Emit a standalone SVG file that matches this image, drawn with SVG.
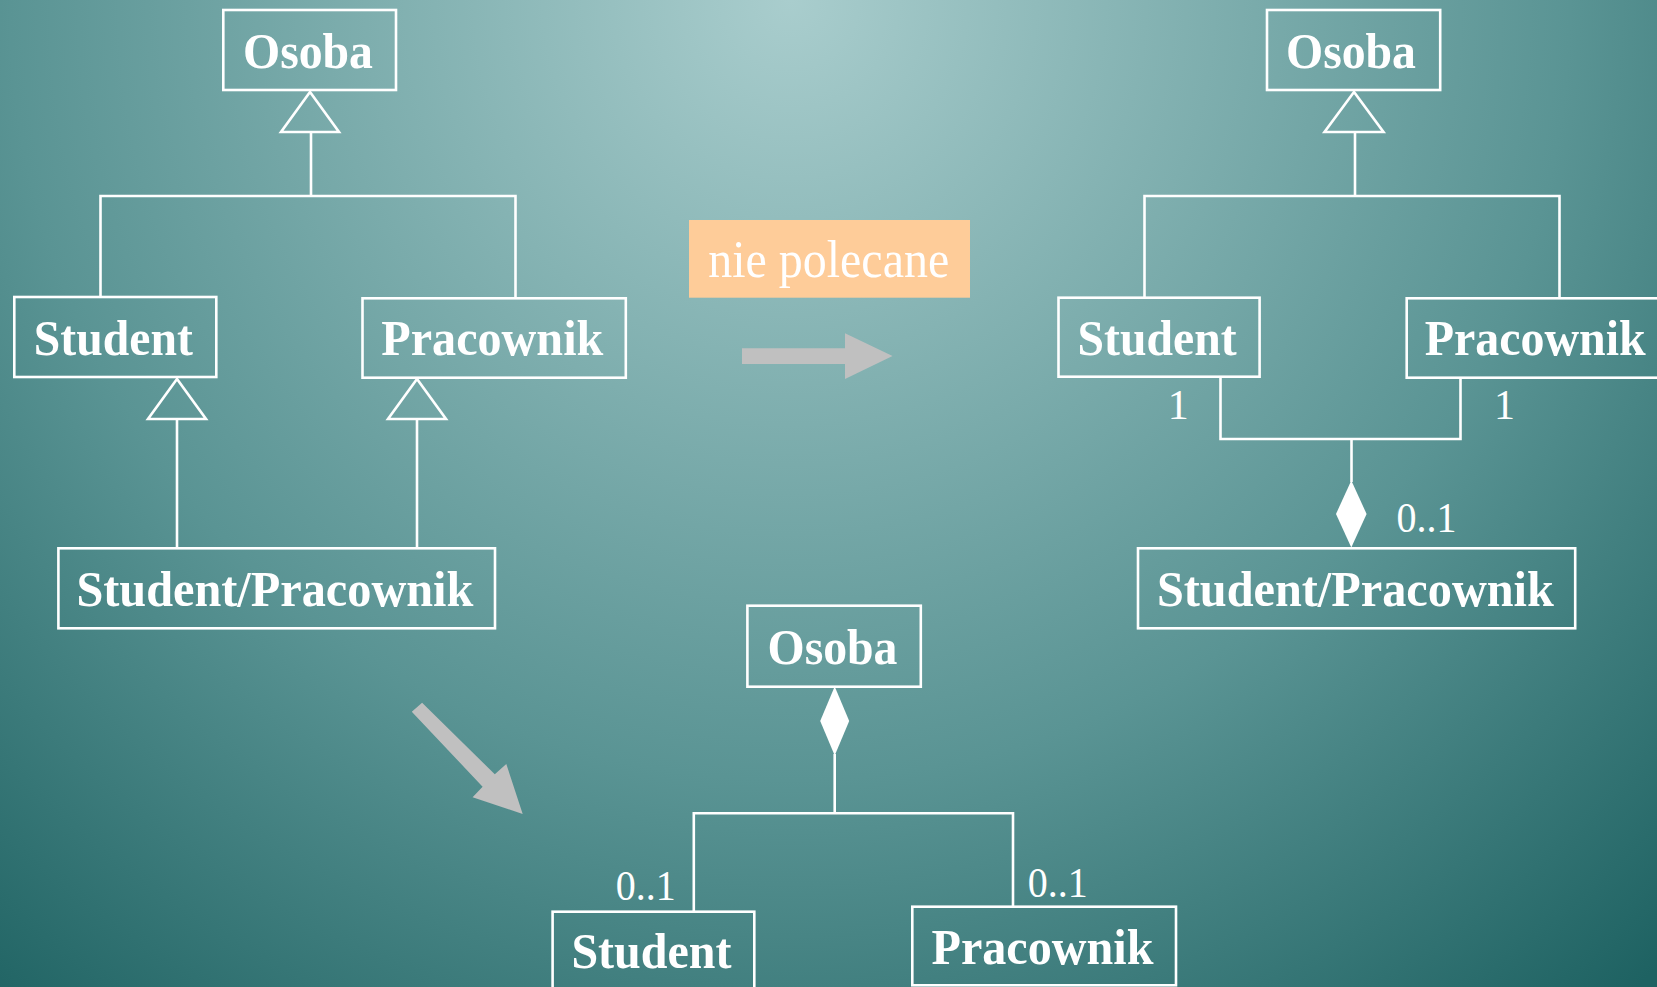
<svg xmlns="http://www.w3.org/2000/svg" width="1657" height="987" viewBox="0 0 1657 987">
<defs>
<radialGradient id="bg" gradientUnits="userSpaceOnUse" cx="790" cy="0" r="1300">
<stop offset="0" stop-color="#A9CDCD"/>
<stop offset="0.6" stop-color="#5A9494"/>
<stop offset="1" stop-color="#1E6262"/>
</radialGradient>
</defs>
<style>
.box{fill:none;stroke:#FFFFFF;stroke-width:2.6}
.ln{fill:none;stroke:#FFFFFF;stroke-width:2.6}
.tri{fill:none;stroke:#FFFFFF;stroke-width:2.6;stroke-linejoin:miter}
.dia{fill:#FFFFFF;stroke:none}
.lbl{font-family:"Liberation Serif","Times New Roman",serif;font-weight:bold;font-size:50px;fill:#FFFFFF;text-anchor:middle}
.mult{font-family:"Liberation Serif","Times New Roman",serif;font-size:42px;fill:#FFFFFF;text-anchor:middle}
.note{font-family:"Liberation Serif","Times New Roman",serif;font-size:52px;fill:#FFFFFF;text-anchor:middle}
.garrow{fill:#C0C0C0;stroke:none}
</style>
<rect x="0" y="0" width="1657" height="987" fill="url(#bg)"/>

<g id="connectors">
<!-- left diagram: generalization -->
<polygon class="tri" points="310,92 281,132 339,132"/>
<polyline class="ln" points="311,132 311,196"/>
<polyline class="ln" points="100.5,297 100.5,196 515.5,196 515.5,298"/>
<polygon class="tri" points="177,379 148,419 206,419"/>
<line class="ln" x1="177" y1="419" x2="177" y2="548"/>
<polygon class="tri" points="417,379 388,419 446,419"/>
<line class="ln" x1="417" y1="419" x2="417" y2="548"/>
<!-- right diagram -->
<polygon class="tri" points="1354,92 1324.5,132 1383.5,132"/>
<polyline class="ln" points="1355,132 1355,196"/>
<polyline class="ln" points="1144.5,297 1144.5,196 1559.5,196 1559.5,298"/>
<polyline class="ln" points="1220.5,377 1220.5,439 1460.5,439 1460.5,378"/>
<line class="ln" x1="1351.5" y1="439" x2="1351.5" y2="482"/>
<polygon class="dia" points="1351.3,480.5 1366.6,514 1351.3,547.5 1336,514"/>
<!-- bottom diagram -->
<polygon class="dia" points="834.7,686.5 849.2,721 834.7,755.5 820.2,721"/>
<line class="ln" x1="834.7" y1="754" x2="834.7" y2="813.3"/>
<polyline class="ln" points="693.8,911 693.8,813.3 1013,813.3 1013,906"/>
<!-- gray transformation arrows -->
<polygon class="garrow" points="742,348.3 845,348.3 845,333.3 892.5,356 845,379 845,364 742,364"/>
<polygon class="garrow" points="422.1,702.7 494.8,774.3 506.3,764 522.7,814 472.6,797.3 482.6,786.7 411.8,711.7"/>
</g>

<g id="note">
<rect x="689" y="220" width="281" height="77.7" fill="#FECC99"/>
<text class="note" x="828.7" y="277" textLength="241" lengthAdjust="spacingAndGlyphs">nie polecane</text>
</g>

<g id="left-osoba">
<rect class="box" x="223.3" y="10" width="172.7" height="80"/>
<text class="lbl" x="308" y="68" textLength="130" lengthAdjust="spacingAndGlyphs">Osoba</text>
</g>
<g id="left-student">
<rect class="box" x="14.3" y="297" width="202" height="80"/>
<text class="lbl" x="113.3" y="355" textLength="159" lengthAdjust="spacingAndGlyphs">Student</text>
</g>
<g id="left-pracownik">
<rect class="box" x="362.5" y="298.3" width="263.3" height="79.4"/>
<text class="lbl" x="492.3" y="355" textLength="222" lengthAdjust="spacingAndGlyphs">Pracownik</text>
</g>
<g id="left-studentpracownik">
<rect class="box" x="58.4" y="548.3" width="436.6" height="80"/>
<text class="lbl" x="274.9" y="606" textLength="397" lengthAdjust="spacingAndGlyphs">Student/Pracownik</text>
</g>

<g id="right-osoba">
<rect class="box" x="1267" y="10" width="173.2" height="80"/>
<text class="lbl" x="1351" y="68" textLength="130" lengthAdjust="spacingAndGlyphs">Osoba</text>
</g>
<g id="right-student">
<rect class="box" x="1058.5" y="297.7" width="201.1" height="79"/>
<text class="lbl" x="1157.1" y="355" textLength="159" lengthAdjust="spacingAndGlyphs">Student</text>
<text class="mult" x="1178.3" y="419">1</text>
</g>
<g id="right-pracownik">
<rect class="box" x="1406.7" y="298.3" width="262" height="79.4"/>
<text class="lbl" x="1535.2" y="355" textLength="221" lengthAdjust="spacingAndGlyphs">Pracownik</text>
<text class="mult" x="1504.5" y="419">1</text>
</g>
<g id="right-studentpracownik">
<rect class="box" x="1138" y="548.3" width="437.2" height="80"/>
<text class="lbl" x="1355.4" y="606" textLength="397" lengthAdjust="spacingAndGlyphs">Student/Pracownik</text>
<text class="mult" x="1426.4" y="532" textLength="60" lengthAdjust="spacingAndGlyphs">0..1</text>
</g>

<g id="bottom-osoba">
<rect class="box" x="747.4" y="605.7" width="173.4" height="81"/>
<text class="lbl" x="832.5" y="664" textLength="130" lengthAdjust="spacingAndGlyphs">Osoba</text>
</g>
<g id="bottom-student">
<rect class="box" x="552.6" y="911.7" width="201.7" height="82"/>
<text class="lbl" x="651.4" y="968" textLength="160" lengthAdjust="spacingAndGlyphs">Student</text>
<text class="mult" x="645.8" y="900" textLength="60" lengthAdjust="spacingAndGlyphs">0..1</text>
</g>
<g id="bottom-pracownik">
<rect class="box" x="912.3" y="906.7" width="263.7" height="78.6"/>
<text class="lbl" x="1042.5" y="964" textLength="222" lengthAdjust="spacingAndGlyphs">Pracownik</text>
<text class="mult" x="1057.8" y="897" textLength="60" lengthAdjust="spacingAndGlyphs">0..1</text>
</g>
</svg>
